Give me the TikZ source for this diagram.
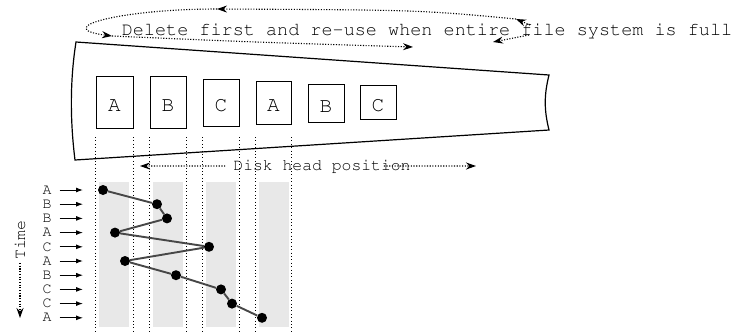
\documentclass[tikz,border=0pt]{standalone}
\usetikzlibrary{arrows.meta,calc}
\newcommand{\diskfont}{\fontencoding{T1}\fontfamily{pcr}\selectfont}

\tikzset{
  block/.style={draw,line width=0.9pt,inner sep=0pt,text height=18pt,text depth=0pt,
    font=\diskfont\fontsize{21}{21}\selectfont},
  guide/.style={line width=0.9pt,dash pattern=on 0.9pt off 2.5pt},
  stripe/.style={fill=gray!18},
  loopline/.style={line width=1.1pt,dash pattern=on 1.1pt off 1.6pt,-{Stealth[length=10pt,width=7pt]}},
  rowlabel/.style={font=\diskfont\fontsize{15}{15}\selectfont,inner sep=0pt},
  hit/.style={circle,fill=black,inner sep=0pt,minimum size=10pt},
  trace/.style={line width=1.9pt,black!72},
}

\begin{document}
\begin{tikzpicture}[x=1pt,y=-1pt]
  \useasboundingbox (0,0) rectangle (735,333);
  % Caption and the wrap-around loop
  \node[font=\diskfont\fontsize{18.5}{18.5}\selectfont,inner sep=0pt,anchor=base] (msg) at (427,35)
    {Delete first and re-use when entire file system is full};
  \coordinate (lpA) at (530,25);
  \coordinate (lpB) at (516,19);
  \coordinate (lpC) at (217,9);
  \coordinate (lpD) at (112,36);
  \coordinate (lpE) at (413,47);
  \coordinate (lpF) at (529,35);
  \coordinate (lpG) at (493,42);
  \draw[loopline] (lpA) -- (lpB);
  \draw[loopline] (lpB) .. controls (420,10) .. (lpC);
  \draw[loopline] (lpC) .. controls (120,9) and (50,28) .. (lpD);
  \draw[loopline] (lpD) .. controls (250,42) .. (lpE);
  \draw[loopline] (lpF) -- (lpG);
  % Platter sector
  \draw[line width=1.2pt] (76,42) -- (549,75) .. controls (544,95) and (544,110) .. (549,130)
    -- (75,160) .. controls (70,120) and (70,80) .. cycle;
  % File blocks on the disk
  \node[block,minimum width=37pt,minimum height=52pt] (a1) at (114.5,102) {A};
  \node[block,minimum width=36pt,minimum height=52pt] (b1) at (168,102) {B};
  \node[block,minimum width=36pt,minimum height=47pt] (c1) at (221,102.5) {C};
  \node[block,minimum width=35pt,minimum height=43pt] (a2) at (273.5,102.5) {A};
  \node[block,minimum width=36pt,minimum height=38pt] (b2) at (326,103) {B};
  \node[block,minimum width=36pt,minimum height=34pt] (c2) at (378,102) {C};
  % Head position arrow
  \node[font=\diskfont\fontsize{16.4}{16.4}\selectfont,inner sep=0pt,anchor=base] (head) at (322,170)
    {Disk head position};
  \coordinate (hl) at (140,166);
  \coordinate (hr) at (476,166);
  \draw[loopline] ([xshift=-8pt]head.west) -- (hl);
  \draw[loopline] ([xshift=-27pt]head.east) -- (hr);
  % Gray lanes and dotted guides
  \foreach \l/\r in {99/129,153/183,206/236,259/289}
    \fill[stripe] (\l,182) rectangle (\r,327);
  \foreach \b in {a1,b1,c1,a2} {
    \draw[guide] (\b.south west |- 0,137) -- (\b.south west |- 0,333);
    \draw[guide] (\b.south east |- 0,137) -- (\b.south east |- 0,333);
  }
  % Requests over time
  \foreach \t [count=\i from 0] in {A,B,B,A,C,A,B,C,C,A} {
    \node[rowlabel] (l\i) at (47,190+14.2*\i) {\t};
    \coordinate (h\i) at (83,190+14.2*\i);
    \draw[line width=1pt,-{Latex[length=7pt,width=5pt]}] ([xshift=8pt]l\i.east) -- (h\i);
  }
  \foreach \x [count=\i from 0] in {103,157,167,115,209,125,176,221,232,262}
    \node[hit] (p\i) at (\x,190+14.2*\i) {};
  \draw[trace] (p0) -- (p1) -- (p2) -- (p3) -- (p4) -- (p5) -- (p6) -- (p7) -- (p8) -- (p9);
  % Time axis
  \node[font=\diskfont\fontsize{16.5}{16.5}\selectfont,rotate=90,inner sep=3pt] (time) at (20,240) {Time};
  \coordinate (tend) at (20,318);
  \draw[loopline] (time.west) -- (tend);
\end{tikzpicture}
\end{document}
